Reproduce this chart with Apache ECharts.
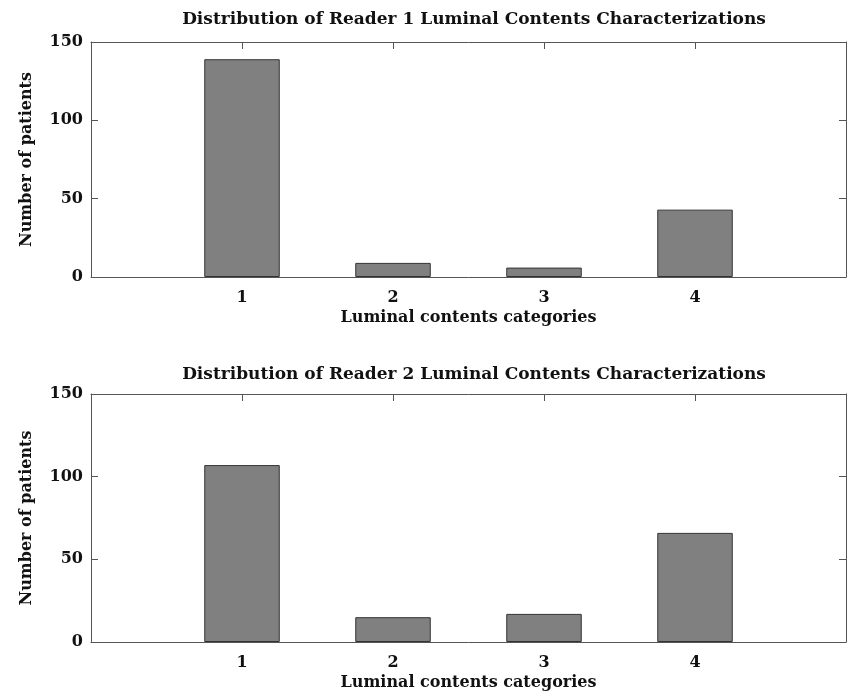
<!DOCTYPE html>
<html>
<head>
<meta charset="utf-8">
<script src="https://cdn.jsdelivr.net/npm/echarts@6/dist/echarts.min.js"></script>
<style>
  html, body { margin: 0; padding: 0; background: #fff; }
  #chart { width: 849px; height: 697px; }
</style>
</head>
<body>
<div id="chart"></div>
<script>
// Luminal contents categories and patient counts per reader
const categories = [1, 2, 3, 4];
const reader1Counts = [139, 9, 6, 43];
const reader2Counts = [107, 15, 17, 66];
const yTicks = [0, 50, 100, 150];
const titles = [
  'Distribution of Reader 1 Luminal Contents Characterizations',
  'Distribution of Reader 2 Luminal Contents Characterizations'
];
const xName = 'Luminal contents categories';
const yName = 'Number of patients';

const FONT = '"DejaVu Serif", serif';
const AXIS_COLOR = '#555';
const TEXT_COLOR = '#111';

const grids = [
  { left: 91, right: 2, top: 42, height: 235 },
  { left: 91, right: 2, top: 394, height: 248 }
];

const xAxes = [];
const yAxes = [];
const series = [];

grids.forEach((g, i) => {
  const counts = i === 0 ? reader1Counts : reader2Counts;
  // bottom x axis with labels and name
  xAxes.push({
    type: 'value', gridIndex: i, position: 'bottom',
    min: 0, max: categories.length + 1, interval: 1,
    axisLine: { show: true, onZero: false, lineStyle: { color: AXIS_COLOR, width: 1 } },
    axisTick: { show: true, inside: true, length: 7, lineStyle: { color: AXIS_COLOR } },
    splitLine: { show: false },
    axisLabel: {
      margin: 13, fontFamily: FONT, fontSize: 16, fontWeight: 'bold', color: TEXT_COLOR,
      formatter: v => categories.indexOf(v) >= 0 ? String(v) : ''
    },
    name: xName, nameLocation: 'middle', nameGap: 33,
    nameTextStyle: { fontFamily: FONT, fontSize: 16, fontWeight: 'bold', color: TEXT_COLOR }
  });
  // mirrored top x axis (box + ticks)
  xAxes.push({
    type: 'value', gridIndex: i, position: 'top',
    min: 0, max: categories.length + 1, interval: 1,
    axisLine: { show: true, onZero: false, lineStyle: { color: AXIS_COLOR, width: 1 } },
    axisTick: { show: true, inside: true, length: 7, lineStyle: { color: AXIS_COLOR } },
    splitLine: { show: false },
    axisLabel: { show: false }
  });
  // left y axis
  yAxes.push({
    type: 'value', gridIndex: i, position: 'left',
    min: yTicks[0], max: yTicks[yTicks.length - 1], interval: yTicks[1] - yTicks[0],
    axisLine: { show: true, onZero: false, lineStyle: { color: AXIS_COLOR, width: 1 } },
    axisTick: { show: true, inside: true, length: 7, lineStyle: { color: AXIS_COLOR } },
    splitLine: { show: false },
    axisLabel: { margin: 8, fontFamily: FONT, fontSize: 16, fontWeight: 'bold', color: TEXT_COLOR },
    name: yName, nameLocation: 'middle', nameGap: 56,
    nameTextStyle: { fontFamily: FONT, fontSize: 16, fontWeight: 'bold', color: TEXT_COLOR }
  });
  // mirrored right y axis
  yAxes.push({
    type: 'value', gridIndex: i, position: 'right',
    min: yTicks[0], max: yTicks[yTicks.length - 1], interval: yTicks[1] - yTicks[0],
    axisLine: { show: true, onZero: false, lineStyle: { color: AXIS_COLOR, width: 1 } },
    axisTick: { show: true, inside: true, length: 7, lineStyle: { color: AXIS_COLOR } },
    splitLine: { show: false },
    axisLabel: { show: false }
  });
  series.push({
    type: 'bar',
    xAxisIndex: i * 2, yAxisIndex: i * 2,
    data: categories.map((c, k) => [c, counts[k]]),
    barWidth: '50%',
    itemStyle: { color: '#808080', borderColor: '#333', borderWidth: 1 },
    silent: true
  });
});

const chart = echarts.init(document.getElementById('chart'), null, { renderer: 'canvas' });
chart.setOption({
  animation: false,
  backgroundColor: '#fff',
  title: titles.map((t, i) => ({
    text: t,
    left: 469, textAlign: 'center',
    top: i === 0 ? 6 : 361,
    textStyle: { fontFamily: FONT, fontSize: 17, fontWeight: 'bold', color: TEXT_COLOR }
  })),
  grid: grids,
  xAxis: xAxes,
  yAxis: yAxes,
  series: series
});
</script>
</body>
</html>
